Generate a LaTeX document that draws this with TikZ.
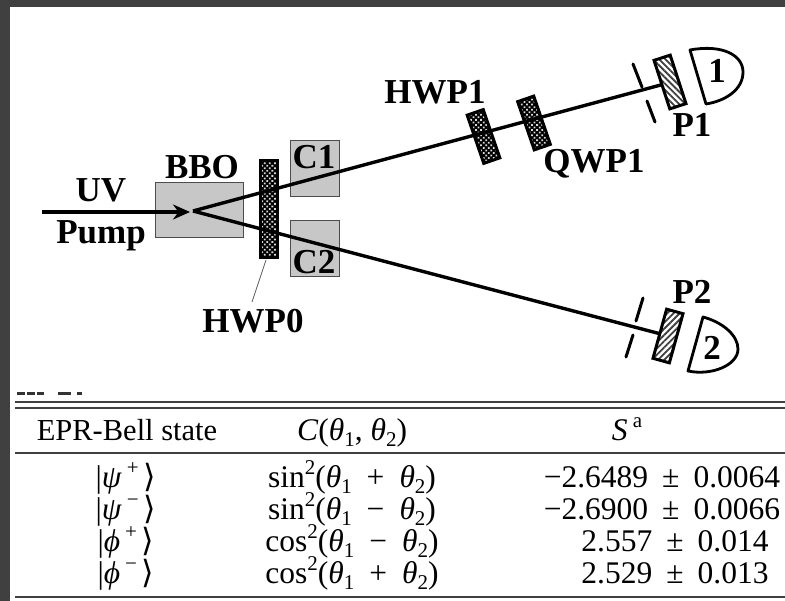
\documentclass[tikz,border=0pt]{standalone}
\usepackage{fontspec}
\setmainfont{Liberation Serif}
\newfontfamily\djfont{DejaVu Sans}
\usetikzlibrary{arrows.meta,patterns.meta}
\newcommand{\subd}[1]{\raisebox{-6pt}{\fontsize{21}{21}\selectfont #1}}
\newcommand{\supd}[1]{\raisebox{13pt}{\fontsize{21}{21}\selectfont #1}}
\newcommand{\thd}[1]{\textit{θ}\subd{#1}}
\newcommand{\ketd}[2]{|\textit{#1}\hspace{5pt}\supd{#2}\hspace{5pt}{\djfont\fontsize{32}{32}\selectfont ⟩}}
\newcommand{\gp}[1]{\hspace{15pt}#1\hspace{15pt}}
\newcommand{\pmv}{\hspace{14pt}±\hspace{14pt}}
\tikzset{
 lab/.style={font=\bfseries\fontsize{35}{35}\selectfont,inner sep=0pt,anchor=center},
 cell/.style={font=\fontsize{31.5}{31.5}\selectfont,inner sep=0pt,anchor=base},
 headcell/.style={font=\fontsize{30.5}{30.5}\selectfont,inner sep=0pt,anchor=base},
 graybox/.style={draw=black!70,line width=1pt,fill=black!22,inner sep=0pt},
 wave/.style={draw=black,line width=3pt,inner sep=0pt,minimum width=17pt,minimum height=51pt,
   preaction={fill=black},pattern={Dots[radius=1.25pt,distance=3.6pt,angle=45]},pattern color=white!85!black},
 polar/.style={draw=black,line width=3pt,inner sep=0pt,minimum width=17pt,minimum height=51pt,
   preaction={fill=white},pattern color=black!75},
 beam/.style={line width=3.4pt,draw=black},
 slit/.style={line width=3pt,line cap=round,draw=black},
 det/.style={line width=2.8pt,draw=black,line join=round},
 rule/.style={line width=1.8pt,draw=black!75},
 crumb/.style={line width=3pt,draw=black!80}
}
\begin{document}
\begin{tikzpicture}[x=1pt,y=-1pt]
\useasboundingbox (0,0) rectangle (785,601);
\fill[white] (0,0) rectangle (785,601);
\fill[black!75] (0,0) rectangle (785,7);
\fill[black!75] (0,0) rectangle (10,601);

\node[graybox,minimum width=88pt,minimum height=55pt] (bbo) at (199,210.5) {};
\node[graybox,minimum width=49pt,minimum height=56pt] (c1) at (314.5,169) {};
\node[graybox,minimum width=49pt,minimum height=56pt] (c2) at (314.5,249) {};

\coordinate (pumpstart) at (42,212);
\coordinate (pumpend) at (190,212);
\coordinate (src) at (193,211);
\coordinate (leadera) at (266,260);
\coordinate (leaderb) at (252,302);

\node[wave,minimum width=17pt,minimum height=97pt] (hwp0) at (269,209) {};
\node[wave,rotate=19] (hwp1) at (483.5,136.5) {};
\node[wave,rotate=19] (qwp1) at (534,123) {};
\node[polar,rotate=18,pattern={Lines[angle=-45,distance=4.4pt,line width=1.8pt]}] (p1) at (670,82) {};
\node[polar,rotate=-15.5,pattern={Lines[angle=45,distance=4.4pt,line width=1.8pt]}] (p2) at (668,336) {};

\draw[beam,-{Stealth[length=17pt,width=15pt]}] (pumpstart) -- (pumpend);
\draw[beam] (src) -- (p1.west);
\draw[beam] (src) -- (p2.west);
\draw[black!60,line width=.8pt] (leadera) -- (leaderb);

\coordinate (s1a) at (633,64);\coordinate (s1b) at (642,87);
\coordinate (s1c) at (647,101);\coordinate (s1d) at (655,122);
\coordinate (s2a) at (643,298);\coordinate (s2b) at (636,321);
\coordinate (s2c) at (633,335);\coordinate (s2d) at (626,357);
\draw[slit] (s1a) -- (s1b);
\draw[slit] (s1c) -- (s1d);
\draw[slit] (s2a) -- (s2b);
\draw[slit] (s2c) -- (s2d);

\draw[det] (690,50) .. controls (722,44) and (743,55) .. (743,72) .. controls (743,90) and (725,101) .. (706,104) -- cycle;
\draw[det] (703,317) .. controls (722,322) and (738,335) .. (738,349) .. controls (738,365) and (712,376) .. (688,371) -- cycle;

\node[lab] (tuv) at (101,190) {UV};
\node[lab] (tpump) at (101,236) {Pump};
\node[lab] (tbbo) at (202,167) {BBO};
\node[lab] (tc1) at (314,157) {C1};
\node[lab] (tc2) at (314,262) {C2};
\node[lab] (thwp0) at (253,321) {HWP0};
\node[lab] (thwp1) at (435,92) {HWP1};
\node[lab] (tqwp1) at (594,164) {QWP1};
\node[lab] (tp1) at (692,125) {P1};
\node[lab] (tp2) at (692,292) {P2};
\node[lab] (t1) at (717,71) {1};
\node[lab] (t2) at (712,348) {2};

\foreach \xa/\xb in {17/25,27/35,37/44,58/71,77/82}{\draw[crumb] (\xa,394) -- (\xb,394);}

\draw[rule] (15,402) -- (785,402);
\draw[rule] (15,408) -- (785,408);
\draw[rule] (15,453) -- (785,453);
\draw[rule] (15,597) -- (785,597);

\node[headcell] (h1) at (127,441) {EPR-Bell state};
\node[cell] (h2) at (352,441) {\textit{C}(\thd{1}, \thd{2})};
\node[cell] (h3) at (627,441) {\textit{S}\,\supd{a}};

\node[cell] (a1) at (126,488) {\ketd{ψ}{+}};
\node[cell] (a2) at (126,519) {\ketd{ψ}{−}};
\node[cell] (a3) at (126,551) {\ketd{ϕ}{+}};
\node[cell] (a4) at (126,583) {\ketd{ϕ}{−}};

\node[cell] (b1) at (352,488) {sin\supd{2}(\thd{1}\gp{+}\thd{2})};
\node[cell] (b2) at (352,519) {sin\supd{2}(\thd{1}\gp{−}\thd{2})};
\node[cell] (b3) at (352,551) {cos\supd{2}(\thd{1}\gp{−}\thd{2})};
\node[cell] (b4) at (352,583) {cos\supd{2}(\thd{1}\gp{+}\thd{2})};

\node[cell] (c1v) at (662,488) {−2.6489\pmv0.0064};
\node[cell] (c2v) at (662,519) {−2.6900\pmv0.0066};
\node[cell] (c3v) at (675,551) {2.557\pmv0.014};
\node[cell] (c4v) at (675,583) {2.529\pmv0.013};
\end{tikzpicture}
\end{document}
